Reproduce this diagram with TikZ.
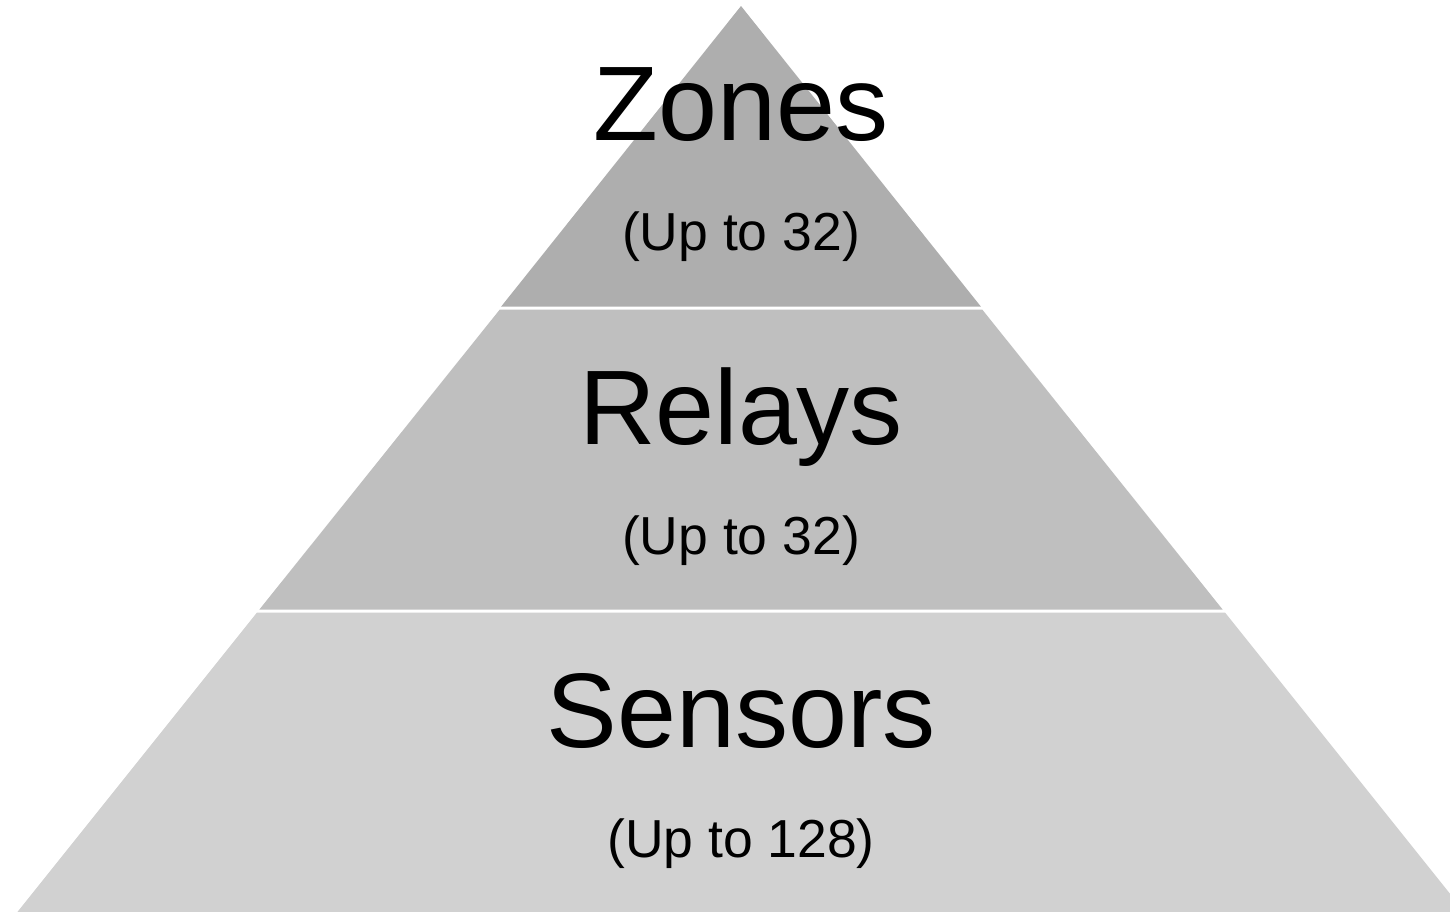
\documentclass[tikz,border=0pt]{standalone}
\usepackage{fontspec}
\setmainfont{Liberation Sans}
\definecolor{tierA}{RGB}{174,174,174}
\definecolor{tierB}{RGB}{191,191,191}
\definecolor{tierC}{RGB}{209,209,209}
\tikzset{
  bigtxt/.style={anchor=base, inner sep=0pt, font=\fontsize{106}{120}\selectfont},
  smalltxt/.style={anchor=base, inner sep=0pt, font=\fontsize{53.5}{60}\selectfont},
}
\begin{document}
\begin{tikzpicture}[x=1pt,y=-1pt]
\useasboundingbox (0,0) rectangle (1450,911);
\fill[white] (0,0) rectangle (1450,911);
\begin{scope}
\clip (0,0) rectangle (1450,911);
\fill[tierA] (741,6) -- (980.8,306.5) -- (501.2,306.5) -- cycle;
\fill[tierB] (499.8,309.5) -- (982.2,309.5) -- (1222.6,609.5) -- (259.4,609.5) -- cycle;
\fill[tierC] (257,612.5) -- (1225,612.5) -- (1467,915) -- (15,915) -- cycle;
\end{scope}
\node[bigtxt] (zones) at (741,140) {Zones};
\node[smalltxt] (zonesn) at (741,250) {(Up to 32)};
\node[bigtxt] (relays) at (741,444) {Relays};
\node[smalltxt] (relaysn) at (741,554) {(Up to 32)};
\node[bigtxt] (sensors) at (741,747) {Sensors};
\node[smalltxt] (sensorsn) at (741,857) {(Up to 128)};
\end{tikzpicture}
\end{document}
